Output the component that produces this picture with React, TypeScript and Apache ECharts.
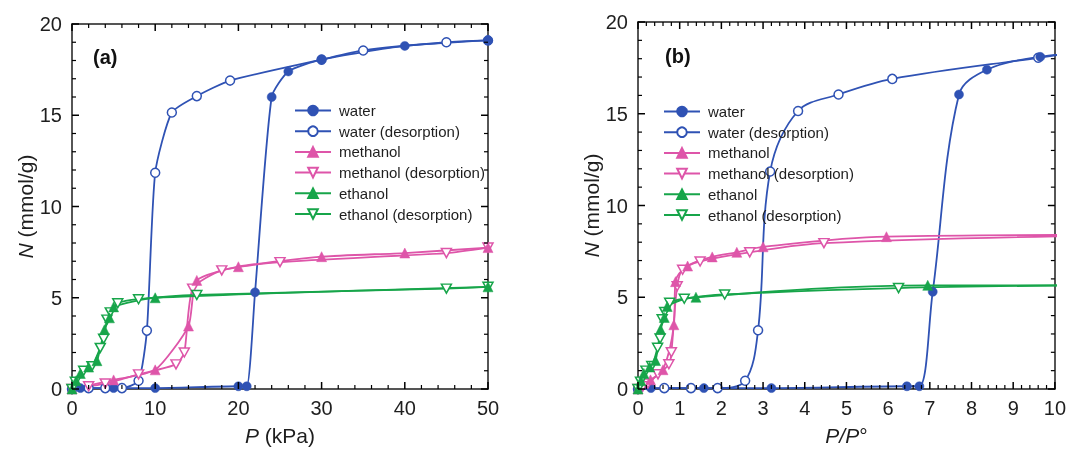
import { useEffect, useRef } from 'react';
import * as echarts from 'echarts';

const BLUE = '#2f52b4';
const PINK = '#de55a9';
const GREEN = '#17a54a';
const INK = '#1e1e1e';
const FONT = 'Liberation Sans, Arial, Helvetica, sans-serif';

const LEGEND_NAMES = ['water', 'water (desorption)', 'methanol', 'methanol (desorption)', 'ethanol', 'ethanol (desorption)'];

// Panel (a): P (kPa)
const waterAdsA = [[0, 0], [1, 0.05], [5, 0.05], [10, 0.05], [20, 0.15], [21, 0.15], [22, 5.3], [24, 16.0], [26, 17.4], [30, 18.05], [40, 18.8], [50, 19.1]];
const waterDesA = [[50, 19.1], [45, 19.0], [35, 18.55], [30, 18.05], [19, 16.9], [15, 16.05], [12, 15.15], [10, 11.85], [9, 3.2], [8, 0.45], [6, 0.05], [4, 0.05], [2, 0.05], [0, 0]];
const methAdsA = [[0, 0], [5, 0.5], [10, 1.05], [14, 3.45], [15, 5.95], [20, 6.7], [30, 7.25], [40, 7.45], [50, 7.75]];
const methDesA = [[50, 7.75], [45, 7.45], [25, 6.95], [18, 6.5], [14.5, 5.5], [13.5, 2.0], [12.5, 1.35], [8, 0.8], [4, 0.3], [2, 0.15], [0, 0]];
const ethAdsA = [[0, 0], [0.5, 0.45], [1, 0.85], [2, 1.2], [3, 1.55], [3.9, 3.25], [4.5, 3.9], [5, 4.5], [10, 5.0], [50, 5.6]];
const ethDesA = [[50, 5.6], [45, 5.5], [15, 5.15], [8, 4.92], [5.5, 4.7], [4.6, 4.2], [4.2, 3.8], [3.8, 2.75], [3.4, 2.25], [2.4, 1.25], [1.4, 1.0], [0.4, 0.4], [0, 0]];

// Panel (b): P/P°
const waterAdsB = [[0, 0], [0.31, 0.05], [1.58, 0.05], [3.2, 0.05], [6.45, 0.15], [6.75, 0.15], [7.07, 5.3], [7.7, 16.05], [8.37, 17.4], [9.65, 18.1], [12.8, 18.8]];
const waterDesB = [[11.2, 18.55], [9.6, 18.05], [6.1, 16.9], [4.81, 16.05], [3.84, 15.15], [3.17, 11.85], [2.88, 3.2], [2.57, 0.45], [1.91, 0.05], [1.27, 0.05], [0.63, 0.05], [0, 0]];
const methAdsB = [[0, 0], [0.3, 0.5], [0.6, 1.05], [0.86, 3.5], [0.9, 5.85], [1.19, 6.7], [1.78, 7.2], [2.37, 7.45], [3.0, 7.75], [5.96, 8.3], [12, 8.4]];
const methDesB = [[12, 8.4], [4.46, 7.95], [2.68, 7.45], [1.49, 6.95], [1.07, 6.5], [0.94, 5.6], [0.8, 2.0], [0.74, 1.35], [0.48, 0.8], [0.24, 0.3], [0.12, 0.15], [0, 0]];
const ethAdsB = [[0, 0], [0.07, 0.45], [0.14, 0.85], [0.28, 1.2], [0.42, 1.55], [0.54, 3.25], [0.63, 3.9], [0.7, 4.5], [1.39, 5.0], [6.95, 5.65], [10.5, 5.65]];
const ethDesB = [[10.5, 5.65], [6.25, 5.5], [2.08, 5.15], [1.11, 4.92], [0.76, 4.7], [0.64, 4.2], [0.58, 3.8], [0.53, 2.75], [0.47, 2.25], [0.33, 1.25], [0.19, 1.0], [0.06, 0.4], [0, 0]];

// Axis ranges and tick positions (major + minor)
const X_A = { min: 0, max: 50, interval: 10 };
const X_B = { min: 0, max: 10, interval: 1 };
const Y_ALL = { min: 0, max: 20, interval: 5 };
const X_A_TICKS = [0, 2, 4, 6, 8, 10, 12, 14, 16, 18, 20, 22, 24, 26, 28, 30, 32, 34, 36, 38, 40, 42, 44, 46, 48, 50];
const X_B_TICKS = [0, 0.2, 0.4, 0.6, 0.8, 1, 1.2, 1.4, 1.6, 1.8, 2, 2.2, 2.4, 2.6, 2.8, 3, 3.2, 3.4, 3.6, 3.8, 4, 4.2, 4.4, 4.6, 4.8, 5, 5.2, 5.4, 5.6, 5.8, 6, 6.2, 6.4, 6.6, 6.8, 7, 7.2, 7.4, 7.6, 7.8, 8, 8.2, 8.4, 8.6, 8.8, 9, 9.2, 9.4, 9.6, 9.8, 10];
const Y_TICKS = [0, 1, 2, 3, 4, 5, 6, 7, 8, 9, 10, 11, 12, 13, 14, 15, 16, 17, 18, 19, 20];

const DOWN_TRI = 'path://M0,0L10,0L5,8.66Z';

type Kind = 'fc' | 'oc' | 'ft' | 'ot';

function mk(name: string, data: number[][], color: string, kind: Kind, axisIndex: number, smooth: number) {
  const open = kind === 'oc' || kind === 'ot';
  const symbol = kind === 'oc' || kind === 'fc' ? 'circle' : kind === 'ft' ? 'triangle' : DOWN_TRI;
  const size = kind === 'oc' || kind === 'fc' ? 9 : kind === 'ft' ? 10 : [10, 9];
  return {
    type: 'line',
    name,
    data,
    xAxisIndex: axisIndex,
    yAxisIndex: axisIndex,
    smooth,
    symbol,
    symbolSize: size,
    lineStyle: { color, width: 1.8 },
    itemStyle: open
      ? { color: '#ffffff', borderColor: color, borderWidth: 1.5 }
      : { color, borderColor: color, borderWidth: 0.5 },
  };
}

// Inside ticks on both opposite frame sides, placed through the axis scales.
function tickSeries(dir: 'x' | 'y', ticks: number[], axisIndex: number, majorStep: number, lo: number, hi: number) {
  return {
    type: 'custom',
    xAxisIndex: axisIndex,
    yAxisIndex: axisIndex,
    silent: true,
    clip: false,
    z: 6,
    data: ticks.map((v) => (dir === 'x' ? [v, lo] : [lo, v])),
    renderItem: (_params: any, api: any) => {
      const v = api.value(dir === 'x' ? 0 : 1);
      const r = v / majorStep;
      const major = Math.abs(r - Math.round(r)) < 1e-6;
      const len = major ? 7 : 4;
      const style = { stroke: '#000', lineWidth: major ? 1.5 : 1.2 };
      if (dir === 'x') {
        const a = api.coord([v, lo]);
        const b = api.coord([v, hi]);
        return {
          type: 'group',
          children: [
            { type: 'line', shape: { x1: a[0], y1: a[1], x2: a[0], y2: a[1] - len }, style },
            { type: 'line', shape: { x1: b[0], y1: b[1], x2: b[0], y2: b[1] + len }, style },
          ],
        };
      }
      const a = api.coord([lo, v]);
      const b = api.coord([hi, v]);
      return {
        type: 'group',
        children: [
          { type: 'line', shape: { x1: a[0], y1: a[1], x2: a[0] + len, y2: a[1] }, style },
          { type: 'line', shape: { x1: b[0], y1: b[1], x2: b[0] - len, y2: b[1] }, style },
        ],
      };
    },
  };
}

function common(gridIndex: number) {
  return {
    type: 'value',
    gridIndex,
    axisLine: { show: true, onZero: false, lineStyle: { color: INK, width: 1.5 } },
    axisTick: { show: false },
    minorTick: { show: false },
    splitLine: { show: false },
    minorSplitLine: { show: false },
  };
}

const RICH = { i: { fontStyle: 'italic', fontSize: 21, fontFamily: FONT, color: INK } };
const NAME_STYLE = { fontSize: 21, fontFamily: FONT, color: INK, rich: RICH };
const LABEL = { fontSize: 20, color: INK, fontFamily: FONT };

function legendAt(left: number, top: number) {
  return {
    orient: 'vertical',
    left,
    top,
    padding: 0,
    itemWidth: 36,
    itemHeight: 12,
    itemGap: 5.7,
    selectedMode: false,
    data: LEGEND_NAMES,
    textStyle: { fontSize: 15, lineHeight: 14, fontFamily: FONT, color: INK, padding: [0, 0, 0, 3] },
  };
}

export default function App() {
  const ref = useRef<HTMLDivElement>(null);
  useEffect(() => {
    if (!ref.current) return;
    const chart = echarts.init(ref.current, undefined, { renderer: 'svg' });
    const option: any = {
      animation: false,
      grid: [
        { left: 72, top: 24, width: 416, height: 368 },
        { left: 638, top: 22, width: 420, height: 370 },
      ],
      xAxis: [
        { ...common(0), ...X_A, position: 'bottom', name: '{i|P} (kPa)', nameLocation: 'middle', nameGap: 36, nameTextStyle: NAME_STYLE, axisLabel: { ...LABEL, margin: 9 } },
        { ...common(0), ...X_A, position: 'top', axisLabel: { show: false } },
        { ...common(1), ...X_B, position: 'bottom', name: '{i|P/P}°', nameLocation: 'middle', nameGap: 36, nameTextStyle: NAME_STYLE, axisLabel: { ...LABEL, margin: 9 } },
        { ...common(1), ...X_B, position: 'top', axisLabel: { show: false } },
      ],
      yAxis: [
        { ...common(0), ...Y_ALL, position: 'left', name: '{i|N} (mmol/g)', nameLocation: 'middle', nameGap: 35, nameTextStyle: NAME_STYLE, axisLabel: { ...LABEL, margin: 10 } },
        { ...common(0), ...Y_ALL, position: 'right', axisLabel: { show: false } },
        { ...common(1), ...Y_ALL, position: 'left', name: '{i|N} (mmol/g)', nameLocation: 'middle', nameGap: 34, nameTextStyle: NAME_STYLE, axisLabel: { ...LABEL, margin: 10 } },
        { ...common(1), ...Y_ALL, position: 'right', axisLabel: { show: false } },
      ],
      legend: [legendAt(294, 103), legendAt(663, 104)],
      graphic: [
        { type: 'text', x: 93, y: 57, style: { text: '(a)', font: `bold 20px ${FONT}`, fill: '#111', verticalAlign: 'middle' } },
        { type: 'text', x: 665, y: 56, style: { text: '(b)', font: `bold 20px ${FONT}`, fill: '#111', verticalAlign: 'middle' } },
      ],
      series: [
        tickSeries('x', X_A_TICKS, 0, X_A.interval, Y_ALL.min, Y_ALL.max),
        tickSeries('y', Y_TICKS, 0, Y_ALL.interval, X_A.min, X_A.max),
        tickSeries('x', X_B_TICKS, 2, X_B.interval, Y_ALL.min, Y_ALL.max),
        tickSeries('y', Y_TICKS, 2, Y_ALL.interval, X_B.min, X_B.max),
        mk('water (desorption)', waterDesA, BLUE, 'oc', 0, 0.2),
        mk('water', waterAdsA, BLUE, 'fc', 0, 0.2),
        mk('methanol (desorption)', methDesA, PINK, 'ot', 0, 0.2),
        mk('methanol', methAdsA, PINK, 'ft', 0, 0.2),
        mk('ethanol (desorption)', ethDesA, GREEN, 'ot', 0, 0.2),
        mk('ethanol', ethAdsA, GREEN, 'ft', 0, 0.2),
        mk('water (desorption)', waterDesB, BLUE, 'oc', 2, 0.35),
        mk('water', waterAdsB, BLUE, 'fc', 2, 0.35),
        mk('methanol (desorption)', methDesB, PINK, 'ot', 2, 0.35),
        mk('methanol', methAdsB, PINK, 'ft', 2, 0.35),
        mk('ethanol (desorption)', ethDesB, GREEN, 'ot', 2, 0.35),
        mk('ethanol', ethAdsB, GREEN, 'ft', 2, 0.35),
      ],
    };
    chart.setOption(option);
    return () => chart.dispose();
  }, []);
  return <div ref={ref} style={{ position: 'fixed', left: 0, top: 0, width: 1069, height: 451 }} />;
}
